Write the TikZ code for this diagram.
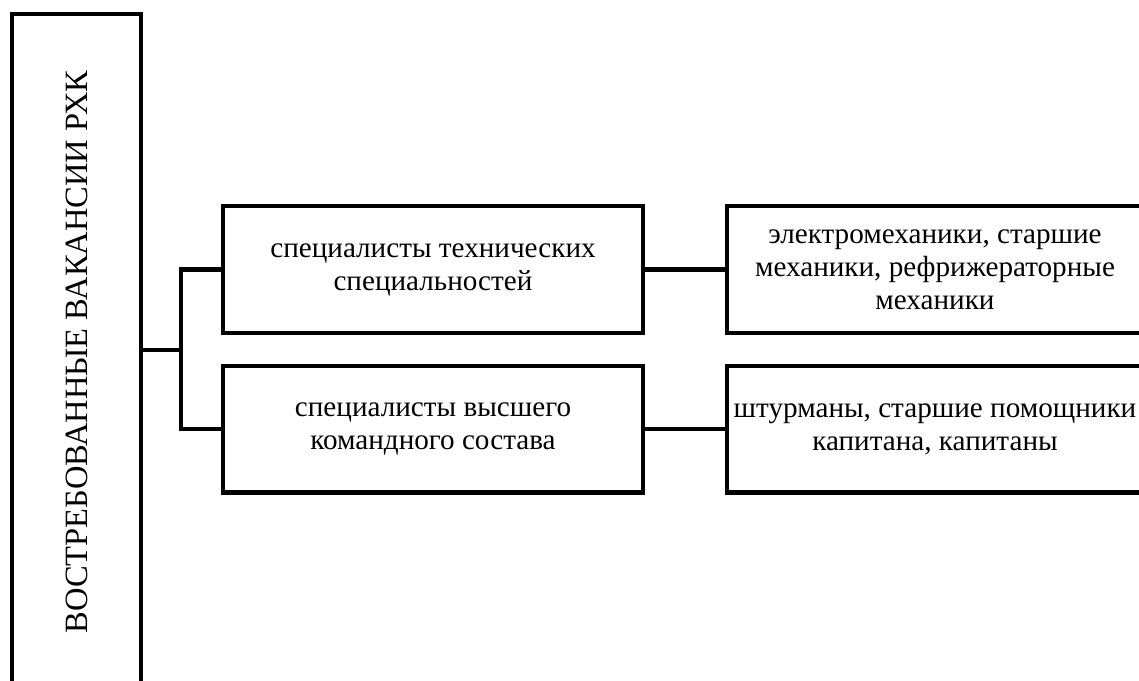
\documentclass[tikz,border=0pt]{standalone}
\usepackage{fontspec}
\setmainfont{Liberation Serif}
\usepackage{tikz}
\usetikzlibrary{positioning}

\begin{document}
\begin{tikzpicture}[x=0.02cm, y=-0.02cm, line width=2.3pt,
    box/.style={draw, minimum width=8.4cm, minimum height=2.54cm, align=center,
      font=\fontsize{16.6pt}{18.8pt}\selectfont}]
          \useasboundingbox (0,0) rectangle (1139,680);
          \clip (0,0) rectangle (1139,680);
          \node[draw, minimum width=2.58cm, minimum height=13.52cm,
                font=\fontsize{18.5pt}{21pt}\selectfont] (vac) at (76.5,352)
                {\rotatebox{90}{ВОСТРЕБОВАННЫЕ ВАКАНСИИ РХК}};
          \node[box] (tech) at (433,269.5) {специалисты технических\\специальностей};
          \node[box] (cmd) at (433,429) {специалисты высшего\\командного состава};
          \node[box, minimum width=8.32cm] (mech) at (935,269.5) {электромеханики, старшие\\механики, рефрижераторные\\механики};
          \node[box, minimum width=8.32cm] (nav) at (935,429) {штурманы, старшие помощники\\капитана, капитаны};
          \coordinate (fork) at (181,350);
          \draw (vac.east |- fork) -- (fork);
          \draw (tech.west) -| (fork) |- (cmd.west);
          \path (tech) edge (mech)
                (cmd) edge (nav);
        \end{tikzpicture}
\end{document}
